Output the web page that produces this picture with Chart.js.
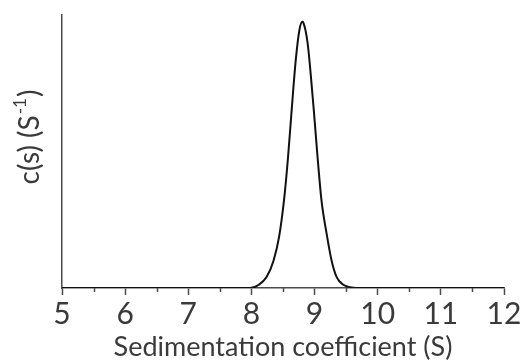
<!DOCTYPE html>
<html>
<head>
<meta charset="utf-8">
<script src="https://cdn.jsdelivr.net/npm/chart.js@4.4.1/dist/chart.umd.min.js"></script>
<style>
  html, body { margin: 0; padding: 0; background: #fff; }
  #wrap { width: 523px; height: 363px; position: relative; }
</style>
</head>
<body>
<div id="wrap"><canvas id="c"></canvas></div>
<script>
// sedimentation coefficient (S) and c(s)
var sValues = [5, 7.9, 7.98, 8.11, 8.24, 8.35, 8.44, 8.52, 8.58, 8.64, 8.70, 8.76, 8.806, 8.822,
               8.89, 8.94, 8.99, 9.04, 9.11, 9.19, 9.27, 9.35, 9.455, 9.56, 9.66, 12];
var cValues = [0, 0, 0, 0.011, 0.04, 0.10, 0.19, 0.33, 0.48, 0.66, 0.83, 0.945, 0.975, 0.972,
               0.897, 0.78, 0.645, 0.50, 0.32, 0.20, 0.10, 0.04, 0.012, 0.003, 0, 0];
var xTickLabels = ['5', '6', '7', '8', '9', '10', '11', '12'];
var xTitle = 'Sedimentation coefficient (S)';
var yTitle = ['c(s) (S', '-1', ')'];

var FONT = 'Lato, "Open Sans", sans-serif';
var AXIS_COLOR = '#4a4a4a';
var TEXT_COLOR = '#3a3a3a';

var points = sValues.map(function(s, i) { return { x: s, y: cValues[i] }; });

/* minor ticks at half units + y title with superscript */
var extras = {
  id: 'extras',
  afterDraw: function(chart) {
    var ctx = chart.ctx;
    var xs = chart.scales.x;
    var ca = chart.chartArea;
    ctx.save();
    ctx.strokeStyle = AXIS_COLOR;
    ctx.lineWidth = 1.5;
    for (var v = 5.5; v < 12; v += 1) {
      var px = Math.round(xs.getPixelForValue(v)) + 0.5;
      ctx.beginPath();
      ctx.moveTo(px, ca.bottom);
      ctx.lineTo(px, ca.bottom + 4);
      ctx.stroke();
    }
    ctx.restore();

    ctx.save();
    ctx.translate(30, 138);
    ctx.rotate(-Math.PI / 2);
    ctx.fillStyle = TEXT_COLOR;
    ctx.textBaseline = 'middle';
    var big = '28px ' + FONT, small = '17px ' + FONT;
    ctx.font = big;
    var w0 = ctx.measureText(yTitle[0]).width;
    var w2 = ctx.measureText(yTitle[2]).width;
    ctx.font = small;
    var w1 = ctx.measureText(yTitle[1]).width;
    var x = -(w0 + w1 + w2) / 2;
    ctx.font = big;
    ctx.fillText(yTitle[0], x, 0);
    ctx.font = small;
    ctx.fillText(yTitle[1], x + w0 + 1, -9);
    ctx.font = big;
    ctx.fillText(yTitle[2], x + w0 + w1 + 2, 0);
    ctx.restore();
  }
};

new Chart(document.getElementById('c'), {
  type: 'line',
  data: {
    datasets: [{
      data: points,
      borderColor: '#111',
      borderWidth: 2,
      pointRadius: 0,
      fill: false,
      cubicInterpolationMode: 'monotone'
    }]
  },
  options: {
    responsive: true,
    maintainAspectRatio: false,
    animation: false,
    layout: { padding: { top: 15, right: 19, left: 0, bottom: 0 } },
    plugins: { legend: { display: false }, tooltip: { enabled: false } },
    scales: {
      x: {
        type: 'linear',
        min: 5,
        max: 12,
        ticks: {
          stepSize: 1,
          color: TEXT_COLOR,
          font: { family: FONT, size: 30 },
          padding: 1,
          maxRotation: 0,
          callback: function(v) { return xTickLabels[v - 5]; }
        },
        grid: { drawOnChartArea: false, drawTicks: true, tickLength: 7, tickColor: AXIS_COLOR, tickWidth: 1.5 },
        border: { color: AXIS_COLOR, width: 1.5 },
        title: {
          display: true,
          text: xTitle,
          color: TEXT_COLOR,
          font: { family: FONT, size: 27 },
          padding: { top: 2, bottom: 0 }
        },
        afterFit: function(scale) { scale.height = 75; }
      },
      y: {
        min: 0,
        max: 1,
        ticks: { display: false },
        grid: { display: false, drawTicks: false },
        border: { color: AXIS_COLOR, width: 1.5 },
        afterFit: function(scale) { scale.width = 62; }
      }
    }
  },
  plugins: [extras]
});
</script>
</body>
</html>
